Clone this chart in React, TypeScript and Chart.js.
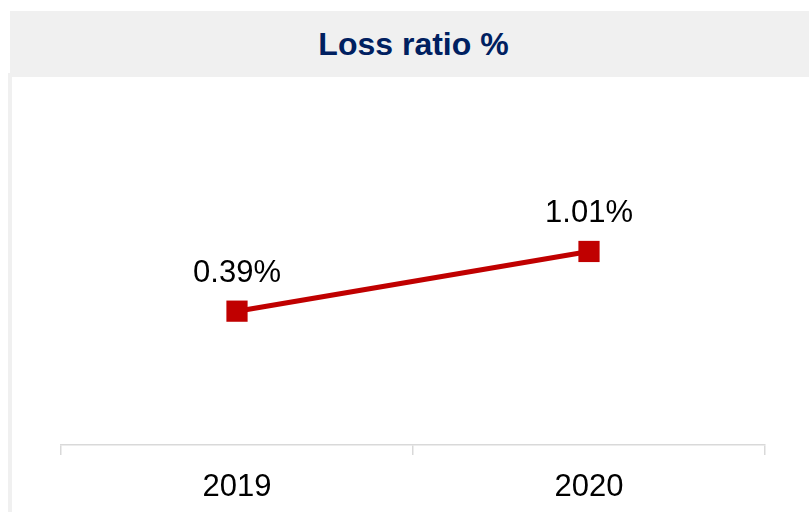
import React, { useEffect, useRef } from "react";
import { Chart, registerables } from "chart.js";

Chart.register(...registerables);

const categories = ["2019", "2020"];
const lossRatio = [0.39, 1.01];
const valueLabels = ["0.39%", "1.01%"];
const title = "Loss ratio %";

const FONT = '"Liberation Sans", Arial, sans-serif';

const labelPlugin = {
  id: "valueLabels",
  afterDatasetsDraw(chart: any) {
    const ctx = chart.ctx;
    const meta = chart.getDatasetMeta(0);
    ctx.save();
    ctx.font = `31px ${FONT}`;
    ctx.fillStyle = "#000000";
    ctx.textAlign = "center";
    ctx.textBaseline = "middle";
    meta.data.forEach((el: any, i: number) => {
      ctx.fillText(valueLabels[i], el.x, el.y - 38);
    });
    ctx.restore();
  },
};

export default function App() {
  const ref = useRef<HTMLCanvasElement>(null);

  useEffect(() => {
    if (!ref.current) return;
    const chart = new Chart(ref.current, {
      type: "line",
      data: {
        labels: categories,
        datasets: [
          {
            data: lossRatio,
            borderColor: "#c00000",
            backgroundColor: "#c00000",
            borderWidth: 5,
            pointStyle: "rect",
            pointRadius: 15,
            pointBorderWidth: 0,
            pointBackgroundColor: "#c00000",
            fill: false,
            tension: 0,
          },
        ],
      },
      options: {
        animation: false,
        responsive: false,
        maintainAspectRatio: false,
        layout: { padding: { left: 49, right: 44, top: 31, bottom: 0 } },
        plugins: {
          legend: { display: false },
          title: { display: false },
          tooltip: { enabled: false },
        },
        scales: {
          x: {
            offset: true,
            afterFit: (scale: any) => {
              scale.height = 67;
            },
            grid: {
              offset: true,
              drawOnChartArea: false,
              drawTicks: true,
              tickLength: 10,
              color: "#d9d9d9",
              lineWidth: 1.5,
            },
            border: { display: true, color: "#d9d9d9", width: 1.5 },
            ticks: {
              color: "#000000",
              padding: 14,
              font: { family: FONT, size: 31 },
            },
          },
          y: {
            display: false,
            min: -1,
            max: 2.5,
          },
        },
      },
      plugins: [labelPlugin],
    });
    return () => chart.destroy();
  }, []);

  return (
    <div
      style={{
        position: "fixed",
        left: 0,
        top: 0,
        width: 809,
        height: 512,
        background: "#ffffff",
        overflow: "hidden",
      }}
    >
      <div
        style={{
          position: "absolute",
          left: 10,
          top: 11,
          width: 799,
          height: 66,
          background: "#f0f0f0",
          display: "flex",
          alignItems: "center",
          justifyContent: "center",
          fontFamily: FONT,
          fontWeight: "bold",
          fontSize: 32,
          color: "#002060",
          paddingLeft: 8,
          boxSizing: "border-box",
        }}
      >
        {title}
      </div>
      <div
        style={{
          position: "absolute",
          left: 8,
          top: 73,
          width: 4,
          height: 439,
          background: "#f0f0f0",
        }}
      />
      <canvas
        ref={ref}
        width={797}
        height={435}
        style={{ position: "absolute", left: 12, top: 77, width: 797, height: 435 }}
      />
    </div>
  );
}
